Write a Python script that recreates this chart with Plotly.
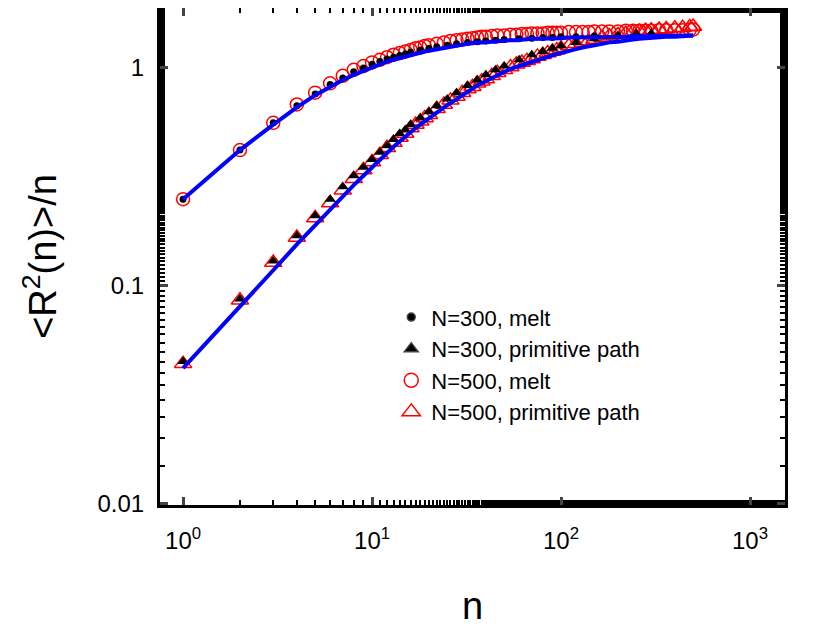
import plotly.graph_objects as go

n300 = [1,2,3,4,5,6,7,8,9,10,11,12,13,14,15,16,18,20,22,25,28,32,36,40,45,50,60,70,80,90,100,120,150,200,250,300]
n500 = [1,2,3,4,5,6,7,8,9,10,11,12,13,14,15,16,17,18,19,20,22,24,26,28,30,32,34,36,38,40,43,46,50,54,58,62,66,70,
        75,80,85,90,95,100,110,120,130,140,150,165,180,200,220,240,260,280,300,330,360,400,440,480,500]

melt300 = [0.25,0.42,0.56,0.67,0.76,0.84,0.90,0.96,1.0,1.04,1.07,1.10,1.12,1.14,1.16,1.18,1.21,1.23,1.25,1.27,
           1.29,1.31,1.32,1.33,1.34,1.35,1.36,1.37,1.38,1.38,1.39,1.39,1.40,1.40,1.41,1.41]
melt500 = [0.25,0.42,0.56,0.68,0.77,0.85,0.92,0.98,1.02,1.06,1.09,1.12,1.15,1.17,1.19,1.21,1.23,1.24,1.26,1.27,
           1.29,1.31,1.33,1.34,1.35,1.36,1.37,1.38,1.39,1.39,1.40,1.41,1.41,1.42,1.42,1.43,1.43,1.44,
           1.44,1.44,1.45,1.45,1.45,1.45,1.46,1.46,1.46,1.46,1.47,1.47,1.47,1.47,1.48,1.48,1.48,1.48,1.48,1.49,1.49,
           1.49,1.49,1.50,1.50]
pp300 = [0.045,0.087,0.13,0.17,0.21,0.25,0.285,0.32,0.35,0.38,0.41,0.44,0.47,0.50,0.52,0.55,0.59,0.63,0.67,0.72,
         0.77,0.83,0.88,0.93,0.98,1.02,1.09,1.15,1.19,1.23,1.26,1.31,1.36,1.41,1.43,1.44]
pp500 = [0.044,0.086,0.128,0.167,0.205,0.24,0.275,0.31,0.34,0.37,0.40,0.43,0.455,0.48,0.50,0.53,0.55,0.57,0.59,0.61,
         0.65,0.68,0.71,0.74,0.77,0.80,0.82,0.85,0.87,0.89,0.92,0.95,0.98,1.01,1.04,1.06,1.08,1.10,
         1.13,1.15,1.17,1.19,1.21,1.23,1.26,1.29,1.31,1.33,1.35,1.38,1.40,1.42,1.44,1.46,1.47,1.48,1.49,1.50,1.51,
         1.52,1.53,1.54,1.55]
fit_melt = [0.25,0.42,0.55,0.66,0.75,0.82,0.88,0.93,0.97,1.01,1.04,1.07,1.09,1.11,1.13,1.15,1.16,1.18,1.19,1.20,
            1.22,1.24,1.25,1.27,1.28,1.29,1.30,1.30,1.31,1.31,1.32,1.33,1.33,1.34,1.34,1.35,1.35,1.36,
            1.36,1.36,1.37,1.37,1.37,1.37,1.38,1.38,1.38,1.38,1.38,1.39,1.39,1.39,1.39,1.40,1.40,1.40,1.40,1.40,1.41,
            1.41,1.41,1.41,1.41]
fit_pp = [0.042,0.08,0.118,0.155,0.19,0.225,0.258,0.29,0.32,0.35,0.38,0.41,0.435,0.46,0.485,0.51,0.53,0.55,0.57,0.59,
          0.63,0.66,0.69,0.72,0.75,0.78,0.80,0.83,0.85,0.87,0.90,0.93,0.96,0.99,1.01,1.03,1.05,1.07,
          1.09,1.11,1.13,1.14,1.16,1.17,1.20,1.22,1.24,1.26,1.27,1.29,1.31,1.32,1.34,1.35,1.36,1.37,1.37,1.38,1.39,
          1.39,1.40,1.40,1.41]

fig = go.Figure()
fig.add_trace(go.Scatter(x=n500, y=melt500, mode='markers', showlegend=False,
                         marker=dict(symbol='circle-open', size=13, color='red', line_width=1.5)))
fig.add_trace(go.Scatter(x=n500, y=pp500, mode='markers', showlegend=False,
                         marker=dict(symbol='triangle-up-open', size=15, color='red', line_width=1.5)))
fig.add_trace(go.Scatter(x=n300, y=melt300, mode='markers', showlegend=False,
                         marker=dict(symbol='circle', size=7, color='black')))
fig.add_trace(go.Scatter(x=n300, y=pp300, mode='markers', showlegend=False,
                         marker=dict(symbol='triangle-up', size=10, color='black')))
fig.add_trace(go.Scatter(x=n500, y=fit_melt, mode='lines', showlegend=False, line=dict(color='blue', width=4)))
fig.add_trace(go.Scatter(x=n500, y=fit_pp, mode='lines', showlegend=False, line=dict(color='blue', width=4)))

# legend drawn by hand
leg = [('circle', 'black', 8, 'N=300, melt'), ('triangle-up', 'black', 12, 'N=300, primitive path'),
       ('circle-open', 'red', 14, 'N=500, melt'), ('triangle-up-open', 'red', 16, 'N=500, primitive path')]
for sym, col, sz, name in leg:
    fig.add_trace(go.Scatter(x=[None], y=[None], mode='markers', name=name,
                             marker=dict(symbol=sym, size=sz, color=col, line_width=1.5)))

ax = dict(type='log', showline=True, linecolor='black', linewidth=3, mirror='ticks', ticks='inside',
          ticklen=8, tickwidth=2.5, showgrid=False, zeroline=False, automargin=False,
          tickfont=dict(size=24, color='black'),
          minor=dict(ticks='inside', ticklen=5, tickwidth=2, tickcolor='black', showgrid=False))
fig.update_layout(
    width=814, height=642, plot_bgcolor='white', paper_bgcolor='white',
    font=dict(family='Liberation Sans, Arial', color='black'),
    margin=dict(l=152, r=37, t=0, b=145),
    xaxis=dict(ax, range=[-0.122, 3.185], tickvals=[1, 10, 100, 1000], ticklabelstandoff=12,
               ticktext=['10<sup>0</sup>', '10<sup>1</sup>', '10<sup>2</sup>', '10<sup>3</sup>'],
               title=dict(text='n', font=dict(size=38), standoff=40)),
    yaxis=dict(ax, range=[-2.005, 0.275], tickvals=[0.01, 0.1, 1], ticktext=['0.01', '0.1', '1'],
               ticklabelstandoff=8,
               title=dict(text='&lt;R<sup>2</sup>(n)&gt;/n', font=dict(size=38), standoff=30)),
    legend=dict(x=0.37, y=0.42, xanchor='left', yanchor='top', bgcolor='rgba(0,0,0,0)',
                font=dict(size=22), itemsizing='trace', tracegroupgap=0),
)
fig.write_html("out.html")
